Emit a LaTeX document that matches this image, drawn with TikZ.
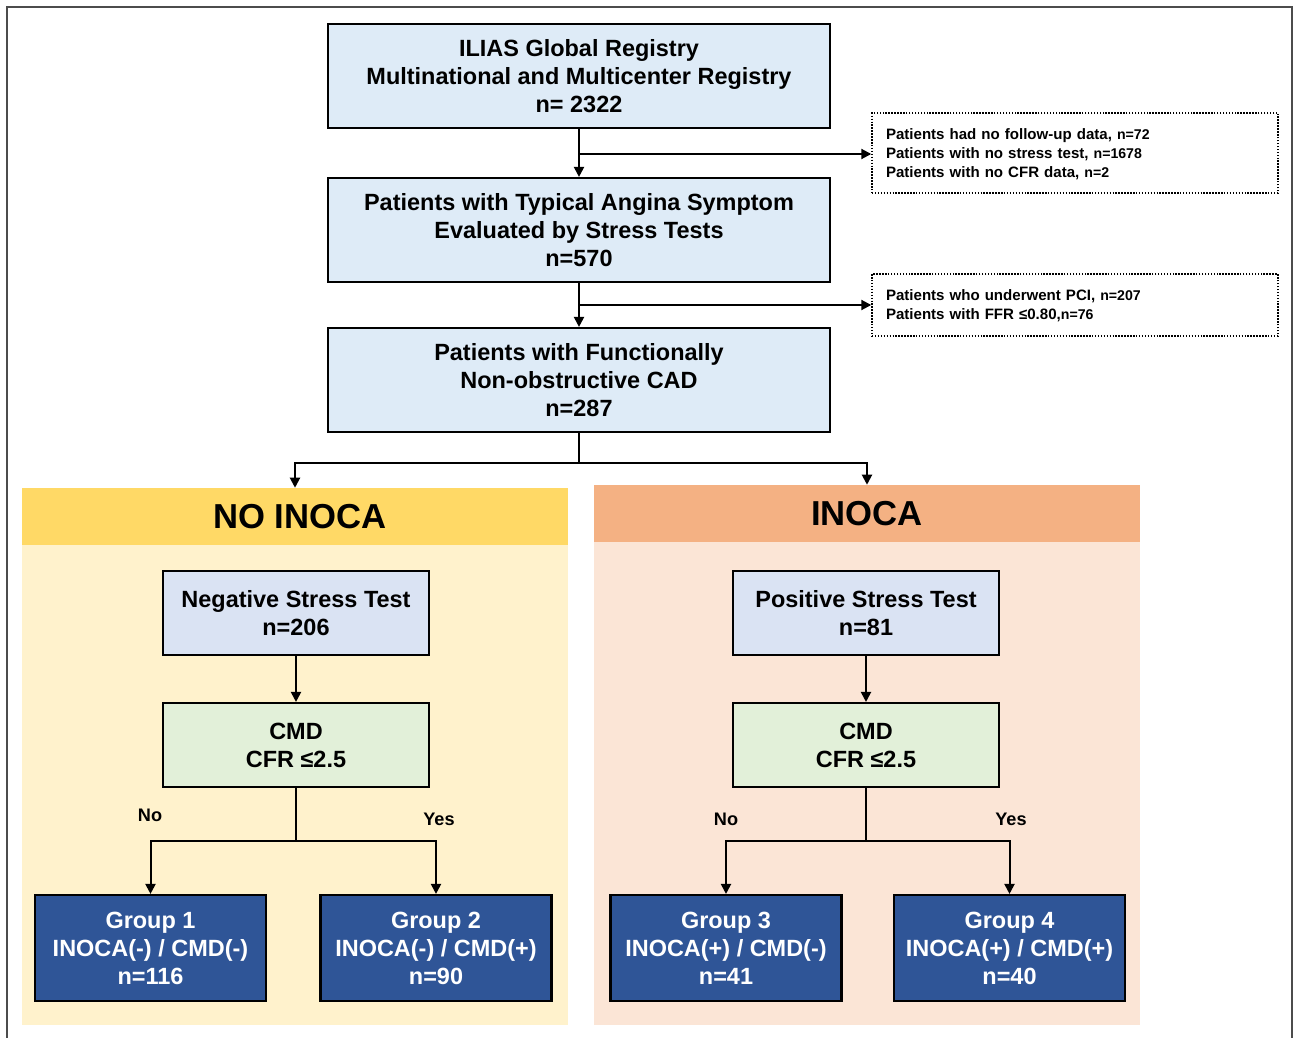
\documentclass[tikz,border=0pt]{standalone}
\usepackage{fontspec}
\setmainfont{Liberation Sans}
\usetikzlibrary{arrows.meta}
\definecolor{topblue}{HTML}{DEEBF7}
\definecolor{stressblue}{HTML}{DAE3F3}
\definecolor{cmdgreen}{HTML}{E2F0D9}
\definecolor{groupblue}{HTML}{2F5597}
\definecolor{yhead}{HTML}{FFD966}
\definecolor{ybody}{HTML}{FFF2CC}
\definecolor{ohead}{HTML}{F4B183}
\definecolor{obody}{HTML}{FBE5D6}
\newcommand{\nval}[1]{{\fontsize{10.6}{14.25}\selectfont #1}}
\begin{document}
\begin{tikzpicture}[x=0.75pt,y=-0.75pt,
  box/.style={draw=black, line width=1.6pt, align=center, inner sep=0pt,
    font=\fontsize{17.6}{21}\selectfont\bfseries},
  topbox/.style={box, fill=topblue, minimum width={502*0.75pt}, minimum height={104*0.75pt}},
  midbox/.style={box, minimum width={266*0.75pt}, minimum height={84*0.75pt}},
  grpbox/.style={box, fill=groupblue, text=white, minimum width={231*0.75pt}, minimum height={106*0.75pt}},
  notebox/.style={draw=black, line width=1.1pt, dash pattern=on 1.1pt off 1.1pt,
    align=left, inner xsep={14*0.75pt}, inner ysep=0pt, text width={378*0.75pt},
    minimum width={406*0.75pt}, font=\fontsize{11.3}{14.25}\selectfont\bfseries},
  panel/.style={inner sep=0pt, minimum width={546*0.75pt}},
  head/.style={inner sep=0pt, font=\fontsize{26}{30}\selectfont\bfseries},
  yn/.style={font=\fontsize{13.6}{16}\selectfont\bfseries, inner sep=0pt},
  conn/.style={line width=1.5pt},
  arr/.style={conn, -{Triangle[length=7.5pt,width=7.5pt]}}
]
\useasboundingbox (0,0) rectangle (1293,1038);
\draw[black!70, line width=1.1pt] (7,1038) -- (7,7) -- (1292,7) -- (1292,1038);

% top chain
\node[topbox] (b1) at (579,76) {ILIAS Global Registry\\Multinational and Multicenter Registry\\n= 2322};
\node[topbox] (b2) at (579,230) {Patients with Typical Angina Symptom\\Evaluated by Stress Tests\\n=570};
\node[topbox] (b3) at (579,380) {Patients with Functionally\\Non-obstructive CAD\\n=287};

\node[notebox, minimum height={80*0.75pt}] (n1) at (1075,153)
 {\strut Patients had no follow-up data, \nval{n=72}\\
  Patients with no stress test, \nval{n=1678}\\
  Patients with no CFR data, \nval{n=2}};
\node[notebox, minimum height={62*0.75pt}] (n2) at (1075,305)
 {\strut Patients who underwent PCI, \nval{n=207}\\
  Patients with FFR ≤0.80,\nval{n=76}};

\coordinate (j1) at (579,154);
\coordinate (j2) at (579,305);
\draw[arr] (b1.south) -- (b2.north);
\draw[arr] (j1) -- (j1 -| n1.west);
\draw[arr] (b2.south) -- (b3.north);
\draw[arr] (j2) -- (j2 -| n2.west);

% panels
\node[panel, fill=ybody, minimum height={480*0.75pt}] (lbody) at (295,785) {};
\node[panel, fill=yhead, minimum height={57*0.75pt}] (lhead) at (295,516.5) {};
\node[head] (ltitle) at (300,516.5) {NO INOCA};
\node[panel, fill=obody, minimum height={483*0.75pt}] (rbody) at (867,783.5) {};
\node[panel, fill=ohead, minimum height={57*0.75pt}] (rhead) at (867,513.5) {};
\node[head] (rtitle) at (867,514) {INOCA};

\coordinate (split) at (579,463);
\draw[conn] (b3.south) -- (split);
\draw[arr] (split) -| (lhead.north);
\draw[arr] (split) -| (rhead.north);

% left branch
\node[midbox, fill=stressblue] (s1) at (296,613) {Negative Stress Test\\n=206};
\node[midbox, fill=cmdgreen] (c1) at (296,745) {CMD\\CFR ≤2.5};
\draw[arr] (s1.south) -- (c1.north);
\node[grpbox] (g1) at (150.5,948) {Group 1\\INOCA(-) / CMD(-)\\n=116};
\node[grpbox] (g2) at (436,948) {Group 2\\INOCA(-) / CMD(+)\\n=90};
\coordinate (k1) at (296,841);
\draw[conn] (c1.south) -- (k1);
\draw[arr] (k1) -| (g1.north);
\draw[arr] (k1) -| (g2.north);
\node[yn] (no1) at (150,815) {No};
\node[yn] (yes1) at (439,819) {Yes};

% right branch
\node[midbox, fill=stressblue] (s2) at (866,613) {Positive Stress Test\\n=81};
\node[midbox, fill=cmdgreen] (c2) at (866,745) {CMD\\CFR ≤2.5};
\draw[arr] (s2.south) -- (c2.north);
\node[grpbox] (g3) at (726,948) {Group 3\\INOCA(+) / CMD(-)\\n=41};
\node[grpbox] (g4) at (1009.5,948) {Group 4\\INOCA(+) / CMD(+)\\n=40};
\coordinate (k2) at (866,841);
\draw[conn] (c2.south) -- (k2);
\draw[arr] (k2) -| (g3.north);
\draw[arr] (k2) -| (g4.north);
\node[yn] (no2) at (726,819) {No};
\node[yn] (yes2) at (1011,819) {Yes};
\end{tikzpicture}
\end{document}
